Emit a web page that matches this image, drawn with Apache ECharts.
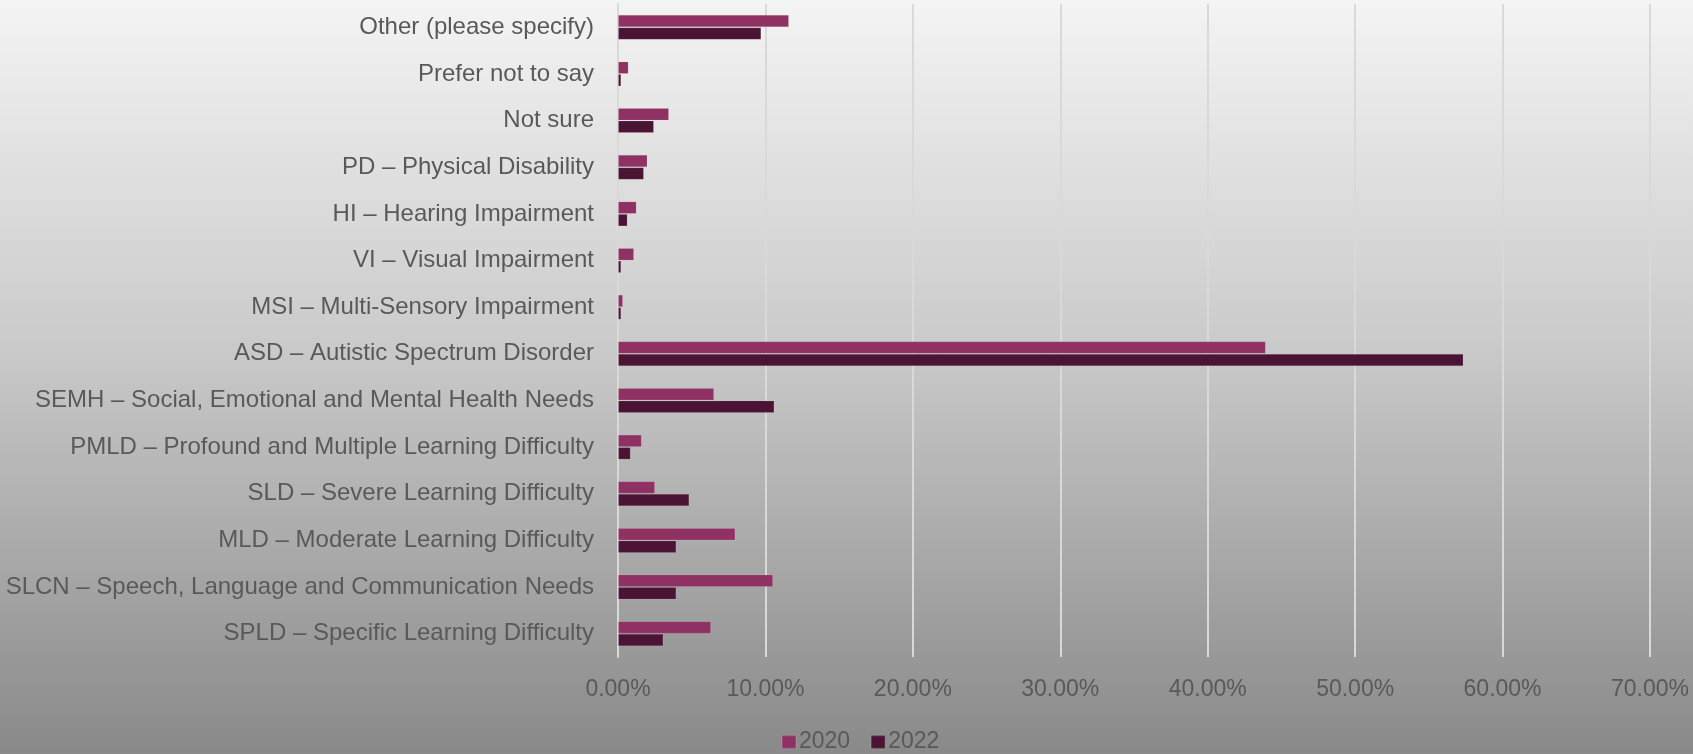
<!DOCTYPE html>
<html>
<head>
<meta charset="utf-8">
<title>SEND need types, 2020 vs 2022</title>
<script src="https://cdn.jsdelivr.net/npm/echarts@6/dist/echarts.min.js"></script>
<style>
  html, body { margin: 0; padding: 0; }
  #chart { width: 1693px; height: 754px; }
</style>
</head>
<body>
<div id="chart"></div>
<script>
// Need categories, listed top to bottom
const categories = [
  'Other (please specify)',
  'Prefer not to say',
  'Not sure',
  'PD \u2013 Physical Disability',
  'HI \u2013 Hearing Impairment',
  'VI \u2013 Visual Impairment',
  'MSI \u2013 Multi-Sensory Impairment',
  'ASD \u2013 Autistic Spectrum Disorder',
  'SEMH \u2013 Social, Emotional and Mental Health Needs',
  'PMLD \u2013 Profound and Multiple Learning Difficulty',
  'SLD \u2013 Severe Learning Difficulty',
  'MLD \u2013 Moderate Learning Difficulty',
  'SLCN \u2013 Speech, Language and Communication Needs',
  'SPLD \u2013 Specific Learning Difficulty'
];

// Share of respondents (%)
const values2020 = [11.60, 0.72, 3.46, 2.00, 1.26, 1.09, 0.34, 43.94, 6.52, 1.61, 2.51, 7.96, 10.52, 6.31];
const values2022 = [9.72, 0.22, 2.44, 1.76, 0.65, 0.22, 0.22, 57.35, 10.61, 0.86, 4.84, 3.96, 3.96, 3.08];

const seriesNames = ['2020', '2022'];

const xMin = 0;
const xMax = 70;
const xStep = 10;

const textColor = '#595959';
const lineColor = '#d9d9d9';
const fontFamily = '"Liberation Sans", Arial, sans-serif';

const chart = echarts.init(document.getElementById('chart'), null, { renderer: 'canvas' });

chart.setOption({
  animation: false,
  backgroundColor: {
    type: 'linear', x: 0, y: 0, x2: 0, y2: 1,
    colorStops: [
      { offset: 0, color: '#f4f4f4' },
      { offset: 0.45, color: '#cbcbcb' },
      { offset: 1, color: '#898989' }
    ]
  },
  textStyle: { fontFamily: fontFamily },
  grid: { left: 618, right: 43, top: 4, bottom: 97, containLabel: false },
  legend: {
    data: seriesNames,
    left: 781,
    top: 730,
    padding: 0,
    itemWidth: 14,
    itemHeight: 13,
    itemGap: 20,
    icon: 'rect',
    textStyle: { color: textColor, fontSize: 23, lineHeight: 24, fontFamily: fontFamily, padding: [0, 0, 0, -2] }
  },
  xAxis: {
    type: 'value',
    min: xMin,
    max: xMax,
    interval: xStep,
    axisLine: { show: false },
    axisTick: { show: false },
    splitLine: { show: true, lineStyle: { color: lineColor, width: 2 } },
    axisLabel: {
      color: textColor,
      fontSize: 23,
      fontFamily: fontFamily,
      margin: 21,
      formatter: function (v) { return v.toFixed(2) + '%'; }
    }
  },
  yAxis: {
    type: 'category',
    data: categories,
    inverse: true,
    axisLine: { show: true, lineStyle: { color: lineColor, width: 2 } },
    axisTick: { show: false },
    axisLabel: { color: textColor, fontSize: 24, fontFamily: fontFamily, margin: 24, padding: [2, 0, 0, 0] }
  },
  series: [
    {
      name: seriesNames[0],
      type: 'bar',
      data: values2020,
      barWidth: 12.5,
      barGap: '0%',
      itemStyle: { color: '#8f3162', borderColor: 'rgba(255,255,255,0.1)', borderWidth: 1 }
    },
    {
      name: seriesNames[1],
      type: 'bar',
      data: values2022,
      barWidth: 12.5,
      barGap: '0%',
      itemStyle: { color: '#4c1434', borderColor: 'rgba(255,255,255,0.1)', borderWidth: 1 }
    }
  ]
});
</script>
</body>
</html>
